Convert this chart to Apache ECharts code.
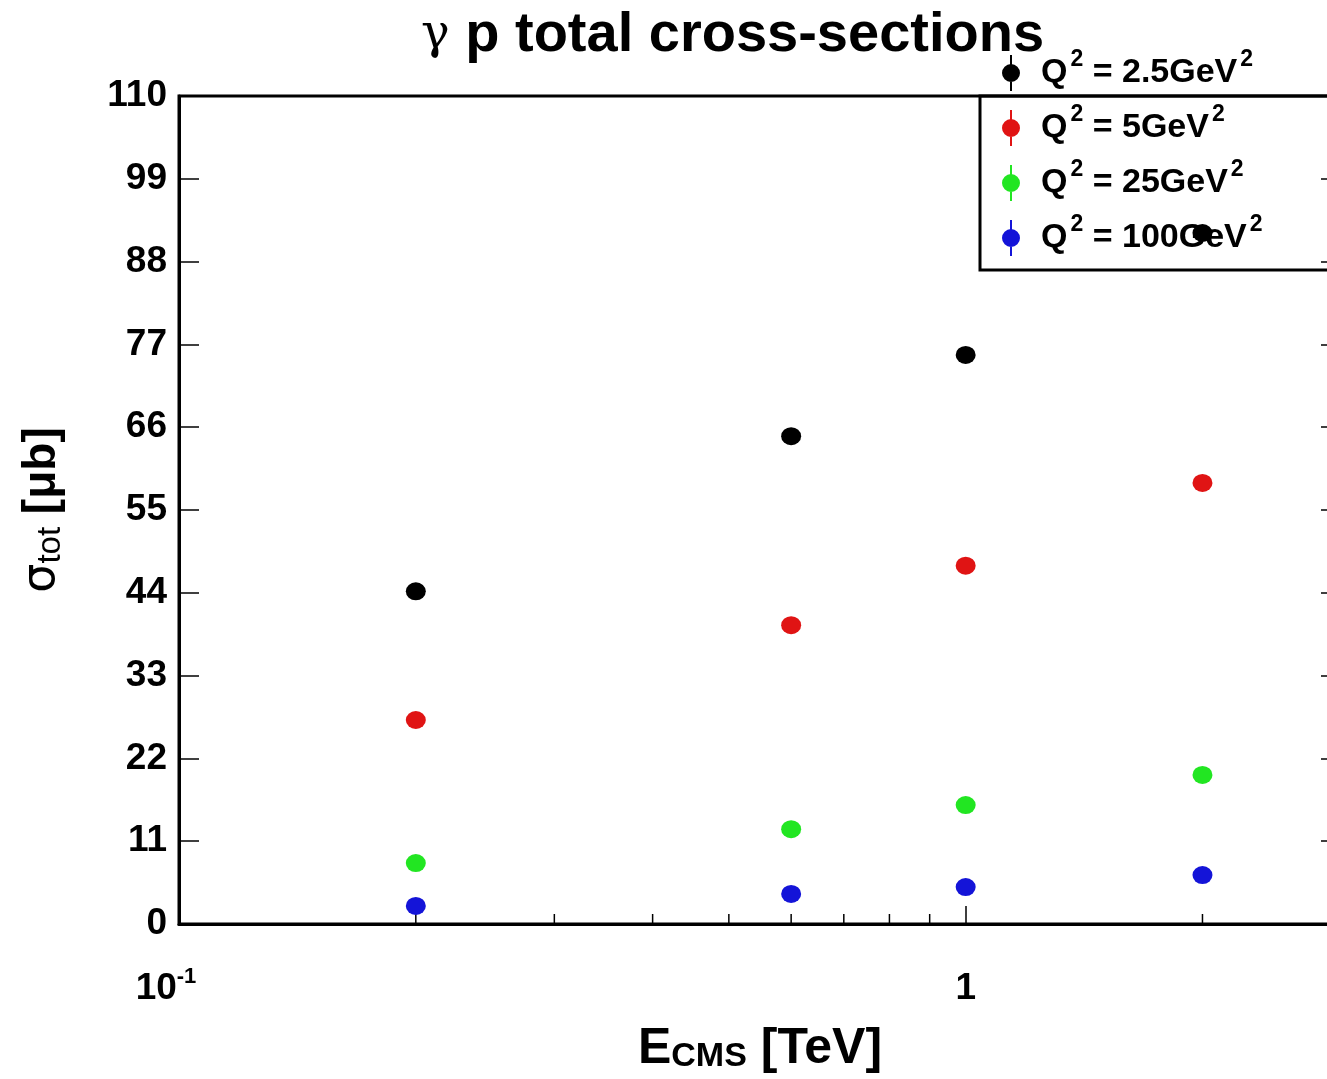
<!DOCTYPE html>
<html>
<head>
<meta charset="utf-8">
<script src="https://cdn.jsdelivr.net/npm/echarts@6/dist/echarts.min.js"></script>
<style>
html,body{margin:0;padding:0;background:#fff;}
#chart{width:1327px;height:1079px;}
</style>
</head>
<body>
<div id="chart"></div>
<script>
// ---- data ----
const energies = [0.2, 0.6, 1, 2]; // E_CMS [TeV]
const q2Labels = ['2.5', '5', '25', '100'];
const sigmaQ2_2p5 = [44.2, 64.8, 75.6, 91.8];
const sigmaQ2_5 = [27.1, 39.7, 47.6, 58.6];
const sigmaQ2_25 = [8.1, 12.6, 15.8, 19.8];
const sigmaQ2_100 = [2.4, 4.0, 4.9, 6.5];
const seriesColors = ['#000000', '#e01414', '#22e622', '#1414d8'];
const yTicks = [0, 11, 22, 33, 44, 55, 66, 77, 88, 99, 110];
const xTickValues = [0.1, 1];
const xTickLabels = ['10{sup|-1}', '1'];
const xMinorTicks = [0.2, 0.3, 0.4, 0.5, 0.6, 0.7, 0.8, 0.9, 2];

const allSigma = [sigmaQ2_2p5, sigmaQ2_5, sigmaQ2_25, sigmaQ2_100];
const seriesNames = q2Labels.map(q => 'Q² = ' + q + 'GeV²');

const FONT = '"Liberation Sans", Arial, Helvetica, sans-serif';

const chart = echarts.init(document.getElementById('chart'), null, {renderer: 'canvas'});

const legendIcon = 'path://M8,0 L10,0 L10,36 L8,36 Z M0,18 A9,9 0 1,1 18,18 A9,9 0 1,1 0,18 Z';

const scatterSeries = allSigma.map((vals, i) => ({
  name: seriesNames[i],
  type: 'scatter',
  data: energies.map((e, j) => [e, vals[j]]),
  symbol: 'circle',
  symbolSize: [20, 18],
  itemStyle: {color: seriesColors[i], opacity: 1},
  z: 6,
  emphasis: {disabled: true}
}));

const minorTickSeries = {
  type: 'custom',
  name: 'minorTicks',
  data: xMinorTicks.map(v => [v, 0]),
  renderItem: function (params, api) {
    const p = api.coord([api.value(0), 0]);
    return {
      type: 'line',
      shape: {x1: p[0], y1: p[1], x2: p[0], y2: p[1] - 10},
      style: {stroke: '#000', lineWidth: 1.5}
    };
  },
  silent: true,
  z: 3
};

const option = {
  backgroundColor: '#ffffff',
  animation: false,
  title: {
    text: '{g|γ} p total cross-sections',
    left: 416,
    top: 3,
    textStyle: {
      fontFamily: FONT,
      fontWeight: 'bold',
      fontSize: 56,
      color: '#000',
      rich: {
        g: {fontFamily: '"DejaVu Serif", serif', fontWeight: 'normal', fontSize: 48, color: '#000'}
      }
    }
  },
  grid: {
    left: 179,
    top: 96,
    width: 1162,
    bottom: 155,
    show: true,
    borderColor: '#000',
    borderWidth: 3,
    backgroundColor: 'transparent',
    containLabel: false,
    outerBoundsMode: 'none'
  },
  legend: {
    orient: 'vertical',
    left: 1002,
    top: 48,
    padding: 0,
    itemWidth: 50,
    itemHeight: 36,
    itemGap: 5,
    icon: legendIcon,
    data: seriesNames,
    z: 4,
    selectedMode: false,
    formatter: function (name) {
      return name.replace(/²/g, '{sup|2}');
    },
    textStyle: {
      fontFamily: FONT,
      fontWeight: 'bold',
      fontSize: 34,
      color: '#000',
      lineHeight: 50,
      rich: {
        sup: {fontFamily: FONT, fontWeight: 'bold', fontSize: 23, color: '#000', verticalAlign: 'top', lineHeight: 26, padding: [0, 0, 0, 3]}
      }
    }
  },
  graphic: [{
    type: 'rect',
    shape: {x: 980, y: 96, width: 400, height: 174},
    style: {fill: 'transparent', stroke: '#000', lineWidth: 3},
    z: 2,
    silent: true
  }],
  xAxis: [{
    type: 'log',
    logBase: 10,
    min: 0.1,
    max: 3,
    position: 'bottom',
    name: '{e|E}{sub|CMS} [TeV]',
    nameLocation: 'middle',
    nameGap: 100,
    nameTextStyle: {
      fontFamily: FONT,
      fontWeight: 'bold',
      fontSize: 50,
      color: '#000',
      rich: {
        e: {fontFamily: FONT, fontWeight: 'bold', fontSize: 50, color: '#000'},
        sub: {fontFamily: FONT, fontWeight: 'bold', fontSize: 34, color: '#000', verticalAlign: 'bottom', padding: [16, 0, 0, 0]}
      }
    },
    axisLine: {show: true, lineStyle: {color: '#000', width: 3}},
    axisTick: {show: true, inside: true, length: 18, lineStyle: {color: '#000', width: 1.5}},
    splitLine: {show: false},
    minorTick: {show: false},
    axisLabel: {
      margin: 42,
      fontFamily: FONT,
      fontWeight: 'bold',
      fontSize: 37,
      color: '#000',
      lineHeight: 46,
      formatter: function (v) {
        for (let i = 0; i < xTickValues.length; i++) {
          if (Math.abs(v - xTickValues[i]) < 1e-9) return xTickLabels[i];
        }
        return '';
      },
      rich: {
        sup: {fontFamily: FONT, fontWeight: 'bold', fontSize: 22, color: '#000', verticalAlign: 'top', lineHeight: 24, padding: [0, 26, 0, 0]}
      }
    }
  }],
  yAxis: [{
    type: 'value',
    min: 0,
    max: 110,
    interval: 11,
    position: 'left',
    name: '{s|σ}{sub|tot} [μb]',
    nameLocation: 'middle',
    nameRotate: 90,
    nameGap: 112,
    nameTextStyle: {
      fontFamily: FONT,
      fontWeight: 'bold',
      fontSize: 46,
      color: '#000',
      rich: {
        s: {fontFamily: '"DejaVu Sans", sans-serif', fontWeight: 'normal', fontSize: 46, color: '#000'},
        sub: {fontFamily: FONT, fontWeight: 'normal', fontSize: 33, color: '#000', verticalAlign: 'bottom', padding: [16, 0, 0, 0]}
      }
    },
    axisLine: {show: true, lineStyle: {color: '#000', width: 3}},
    axisTick: {show: true, inside: true, length: 20, lineStyle: {color: '#000', width: 1.5}},
    splitLine: {show: false},
    axisLabel: {
      margin: 12,
      fontFamily: FONT,
      fontWeight: 'bold',
      fontSize: 37,
      color: '#000',
      formatter: function (v) {
        const idx = yTicks.indexOf(Math.round(v));
        return idx >= 0 ? String(yTicks[idx]) : '';
      }
    }
  }, {
    type: 'value',
    min: 0,
    max: 110,
    interval: 11,
    position: 'right',
    axisLine: {show: true, lineStyle: {color: '#000', width: 3}},
    axisTick: {show: true, inside: true, length: 20, lineStyle: {color: '#000', width: 1.5}},
    axisLabel: {show: false},
    splitLine: {show: false}
  }],
  series: scatterSeries.concat([minorTickSeries])
};

chart.setOption(option);
</script>
</body>
</html>
